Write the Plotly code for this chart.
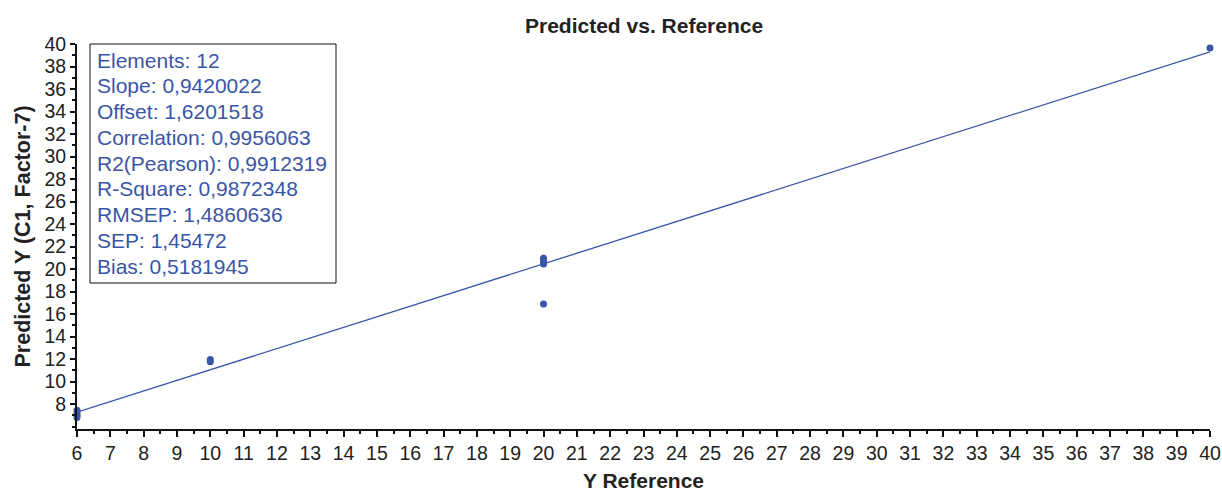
import plotly.graph_objects as go

# Data
y_reference = [6, 6, 6, 6, 10, 10, 20, 20, 20, 20, 40, 40]
y_predicted = [6.8, 7.0, 7.2, 7.45, 11.75, 11.95, 20.45, 20.7, 20.95, 16.9, 39.65, 40.05]

slope = 0.9420022
offset = 1.6201518
line_x = [6, 40]

stats_labels = ["Elements", "Slope", "Offset", "Correlation", "R2(Pearson)",
                "R-Square", "RMSEP", "SEP", "Bias"]
stats_values = ["12", "0,9420022", "1,6201518", "0,9956063", "0,9912319",
                "0,9872348", "1,4860636", "1,45472", "0,5181945"]

BLUE = "#3a55a6"
TXT = "#222222"
FONT = "Liberation Sans, Arial, sans-serif"

fig = go.Figure()
fig.add_trace(go.Scatter(
    x=line_x, y=[slope * v + offset for v in line_x], mode="lines",
    line=dict(color=BLUE, width=1.3), hoverinfo="skip", showlegend=False, cliponaxis=False))
fig.add_trace(go.Scatter(
    x=y_reference, y=y_predicted, mode="markers",
    marker=dict(color=BLUE, size=7, line=dict(width=0)),
    showlegend=False, cliponaxis=False))

L, R, T, B = 77, 12, 44, 63
W, H = 1222, 492
pw = W - L - R
ph = H - T - B

def px_x(p):
    return (p - L) / pw

def px_y(p):
    return (H - B - p) / ph

fig.add_shape(type="rect", xref="paper", yref="paper",
              x0=px_x(90), x1=px_x(336), y0=px_y(283), y1=px_y(44),
              line=dict(color="#111111", width=1), fillcolor="white", layer="above")
for i, (k, v) in enumerate(zip(stats_labels, stats_values)):
    fig.add_annotation(xref="paper", yref="paper", x=px_x(95), y=px_y(60 + i * 25.75),
                       xanchor="left", yanchor="middle", align="left", showarrow=False,
                       text=f"{k}: {v}", font=dict(family=FONT, size=21, color=BLUE))

fig.add_annotation(xref="paper", yref="paper", x=0.5, y=px_y(25),
                   xanchor="center", yanchor="middle", showarrow=False,
                   text="<b>Predicted vs. Reference</b>",
                   font=dict(family=FONT, size=21, color=TXT))

fig.update_layout(
    width=W, height=H,
    margin=dict(l=L, r=R, t=T, b=B, autoexpand=False),
    plot_bgcolor="white", paper_bgcolor="white",
    font=dict(family=FONT, color=TXT),
    xaxis=dict(range=[6, 40], tickmode="linear", tick0=6, dtick=1, automargin=False,
               ticks="outside", ticklen=6, tickwidth=2, tickcolor="#111111",
               showline=True, linecolor="#111111", linewidth=2,
               showgrid=False, zeroline=False,
               tickfont=dict(family=FONT, size=19.5, color=TXT),
               minor=dict(dtick=0.5, ticks="outside", ticklen=3, tickwidth=2, tickcolor="#111111"),
               title=dict(text="<b>Y Reference</b>", standoff=15,
                          font=dict(family=FONT, size=21, color=TXT))),
    yaxis=dict(range=[5.78, 40], tickmode="array", tickvals=list(range(8, 41, 2)),
               automargin=False,
               ticks="outside", ticklen=5, tickwidth=2, tickcolor="#111111",
               showline=True, linecolor="#111111", linewidth=2,
               showgrid=False, zeroline=False,
               tickfont=dict(family=FONT, size=19.5, color=TXT),
               minor=dict(tickvals=list(range(6, 41, 1)), ticks="outside", ticklen=3,
                          tickwidth=1.5, tickcolor="#111111"),
               title=dict(text="<b>Predicted Y (C1, Factor-7)</b>", standoff=8,
                          font=dict(family=FONT, size=21.5, color=TXT))),
)

fig.write_html("out.html", config={"displayModeBar": False},
               post_script="document.body.style.margin='0';document.body.style.overflow='hidden';")
